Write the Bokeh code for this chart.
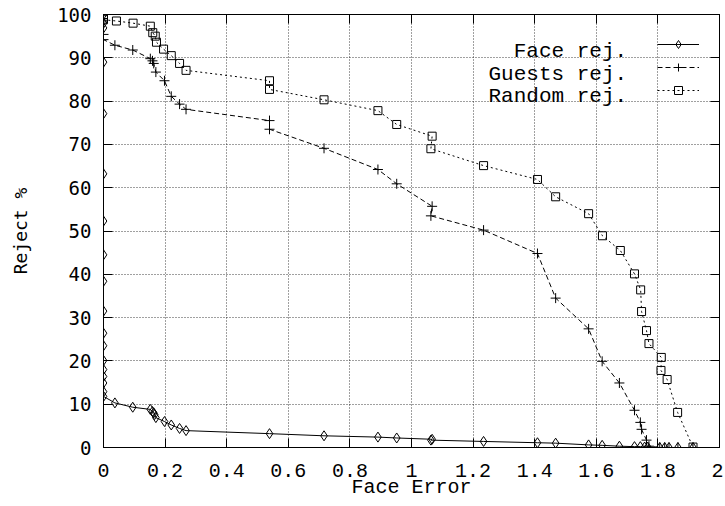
from bokeh.plotting import figure
from bokeh.models import Range1d, FixedTicker, LinearAxis, Legend, LegendItem, Label
from bokeh.embed import file_html
from bokeh.resources import INLINE

# ---------------- data ----------------
face_x = [0, 0, 0, 0, 0, 0, 0, 0, 0, 0, 0, 0, 0, 0, 0, 0, 0, 0,
          0.037, 0.095, 0.152, 0.159, 0.163, 0.166, 0.17, 0.198, 0.22, 0.247, 0.268,
          0.539, 0.716, 0.891, 0.952, 1.067, 1.063, 1.234, 1.409, 1.468, 1.575, 1.619,
          1.675, 1.724, 1.743, 1.757, 1.767, 1.806, 1.822, 1.836, 1.865, 1.914]
face_y = [100, 98, 96.9, 89.0, 77.1, 63.2, 52.3, 44.5, 38.4, 31.5, 26.4, 23.5, 20.1, 18.0, 16.4, 14.9, 12.9, 11.8,
          10.3, 9.3, 8.8, 8.3, 8.0, 7.6, 6.9, 6.0, 5.2, 4.4, 3.9,
          3.2, 2.7, 2.4, 2.2, 1.9, 1.7, 1.4, 1.1, 1.0, 0.6, 0.5,
          0.3, 0.2, 0.2, 0.1, 0.1, 0, 0, 0, 0, 0]

guests_x = [0, 0, 0, 0.037, 0.095, 0.152, 0.159, 0.163, 0.17, 0.198, 0.22, 0.247, 0.268,
            0.539, 0.539, 0.716, 0.891, 0.952, 1.067, 1.063, 1.234, 1.409, 1.468, 1.575,
            1.619, 1.675, 1.724, 1.743, 1.747, 1.763, 1.771, 1.806, 1.822, 1.836, 1.865, 1.914]
guests_y = [100, 95.4, 94.2, 92.9, 91.8, 89.8, 89.3, 88.7, 86.7, 84.7, 81.1, 79.3, 78.1,
            75.5, 73.5, 69.1, 64.2, 60.9, 55.7, 53.5, 50.2, 44.8, 34.5, 27.4,
            19.9, 14.9, 8.6, 5.8, 4.2, 1.7, 0.3, 0, 0, 0, 0, 0]

random_x = [0, 0, 0, 0, 0.042, 0.096, 0.152, 0.16, 0.168, 0.172, 0.195, 0.22, 0.247, 0.268,
            0.539, 0.539, 0.716, 0.891, 0.952, 1.067, 1.063, 1.234, 1.409, 1.468, 1.575,
            1.62, 1.678, 1.724, 1.744, 1.747, 1.763, 1.771, 1.811, 1.81, 1.83, 1.864, 1.914]
random_y = [100, 99.6, 99.2, 98.8, 98.5, 98.0, 97.3, 95.8, 95.0, 93.6, 92.0, 90.5, 88.7, 87.1,
            84.7, 82.7, 80.3, 77.8, 74.6, 71.9, 69.0, 65.1, 61.9, 57.9, 54.0,
            48.9, 45.5, 40.1, 36.4, 31.4, 27.0, 24.0, 20.8, 17.8, 15.7, 8.1, 0.1]

x_ticks = [0, 0.2, 0.4, 0.6, 0.8, 1, 1.2, 1.4, 1.6, 1.8, 2]
x_tick_labels = ["0", "0.2", "0.4", "0.6", "0.8", "1", "1.2", "1.4", "1.6", "1.8", "2"]
y_ticks = [0, 10, 20, 30, 40, 50, 60, 70, 80, 90, 100]
y_tick_labels = ["0", "10", "20", "30", "40", "50", "60", "70", "80", "90", "100"]
series_names = ["Face rej.", "Guests rej.", "Random rej."]
x_title = "Face Error"
y_title = "Reject %"

# ---------------- figure ----------------
p = figure(width=723, height=506, x_range=Range1d(0, 2), y_range=Range1d(0, 100),
           output_backend="svg", toolbar_location=None,
           min_border_left=103, min_border_right=4, min_border_top=14, min_border_bottom=59)
p.outline_line_color = "black"
p.outline_line_width = 1
p.background_fill_color = "white"
p.border_fill_color = "white"

# grid
p.xgrid.ticker = FixedTicker(ticks=x_ticks)
p.ygrid.ticker = FixedTicker(ticks=y_ticks)
for g in (p.xgrid, p.ygrid):
    g.grid_line_color = "black"
    g.grid_line_alpha = 0.75
    g.grid_line_dash = "1 2"
    g.grid_line_width = 1

# axes
xa = p.xaxis[0]
xa.ticker = FixedTicker(ticks=x_ticks)
xa.major_label_overrides = dict(zip(x_ticks, x_tick_labels))
xa.major_label_text_font = "Liberation Mono"
xa.major_label_text_font_size = "20px"
xa.major_label_text_color = "black"
xa.major_label_standoff = 16
xa.axis_label = x_title
xa.axis_label_text_font = "Liberation Mono"
xa.axis_label_text_font_size = "20px"
xa.axis_label_text_font_style = "normal"
xa.axis_label_text_color = "black"
xa.axis_label_standoff = -4

ya = p.yaxis[0]
ya.ticker = FixedTicker(ticks=y_ticks)
ya.major_label_overrides = dict(zip(y_ticks, y_tick_labels))
ya.major_label_text_font = "DejaVu Sans Mono"
ya.major_label_text_font_size = "19px"
ya.major_label_text_color = "black"
ya.major_label_standoff = 12
ya.axis_label = y_title
ya.axis_label_text_font = "DejaVu Sans Mono"
ya.axis_label_text_font_size = "18px"
ya.axis_label_text_font_style = "normal"
ya.axis_label_text_color = "black"
ya.axis_label_standoff = 23

for a in (xa, ya):
    a.major_tick_in = 9
    a.major_tick_out = 0
    a.minor_tick_in = 0
    a.minor_tick_out = 0
    a.major_tick_line_color = "black"
    a.axis_line_color = "black"

# mirrored ticks on top / right (no labels)
top_ax = LinearAxis(ticker=FixedTicker(ticks=x_ticks),
                    major_label_overrides={t: "" for t in x_ticks})
right_ax = LinearAxis(ticker=FixedTicker(ticks=y_ticks),
                      major_label_overrides={t: "" for t in y_ticks})
for a in (top_ax, right_ax):
    a.major_label_standoff = 0
    a.major_tick_in = 9
    a.major_tick_out = 0
    a.minor_tick_in = 0
    a.minor_tick_out = 0
    a.major_tick_line_color = "black"
    a.axis_line_color = "black"
p.add_layout(top_ax, "above")
p.add_layout(right_ax, "right")

# ---------------- series ----------------
fl = p.line(face_x, face_y, line_color="black", line_width=1)
fs = p.scatter(face_x, face_y, marker="diamond", size=10,
               line_color="black", fill_color=None, line_width=1)
gl = p.line(guests_x, guests_y, line_color="black", line_width=1, line_dash="5 3")
gs = p.scatter(guests_x, guests_y, marker="cross", size=10, line_color="black", line_width=1)
rl = p.line(random_x, random_y, line_color="black", line_width=1, line_dash="2 3")
rs = p.scatter(random_x, random_y, marker="square", size=8,
               line_color="black", fill_color=None, line_width=1)

# legend samples (glyphs only) at the right, texts right-aligned to their left (gnuplot style)
legend = Legend(items=[LegendItem(label="", renderers=[fl, fs]),
                       LegendItem(label="", renderers=[gl, gs]),
                       LegendItem(label="", renderers=[rl, rs])],
                location="top_right", margin=20, glyph_width=42, glyph_height=20,
                spacing=3, label_standoff=0, label_width=0, label_height=0,
                border_line_color=None, background_fill_alpha=0)
p.add_layout(legend)

legend_text_x = 1.70
legend_text_y = [91.4, 86.1, 81.0]
for name, ty in zip(series_names, legend_text_y):
    p.add_layout(Label(x=legend_text_x, y=ty, text=name, text_align="right",
                       text_baseline="alphabetic", text_font="Liberation Mono",
                       text_font_size="21px", text_color="black"))

open("out.html", "w").write(file_html(p, INLINE))
